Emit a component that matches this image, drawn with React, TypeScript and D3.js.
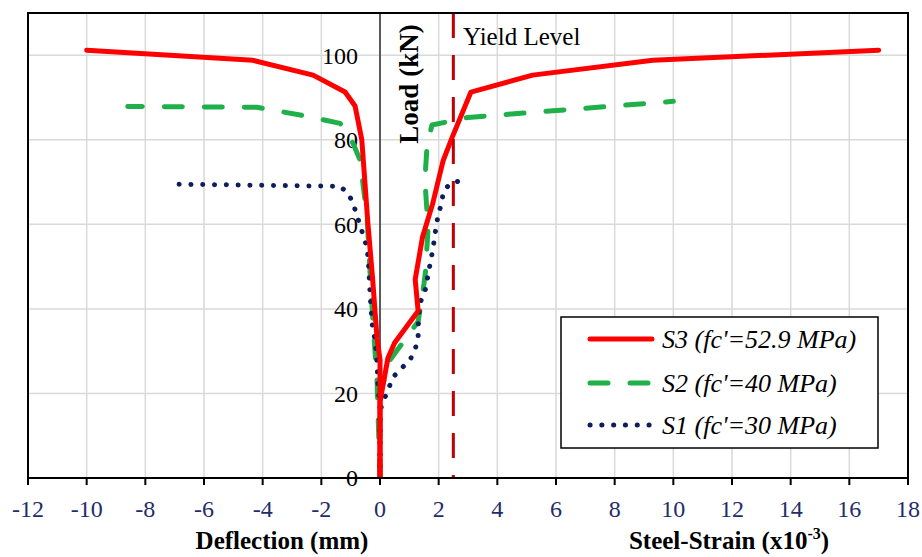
import React from "react";
import * as d3 from "d3";

const width = 922;
const height = 557;

// axis ranges and tick labels
const xTickValues = [-12, -10, -8, -6, -4, -2, 0, 2, 4, 6, 8, 10, 12, 14, 16, 18];
const yTickValues = [0, 20, 40, 60, 80, 100];
const yieldStrain = 2.5;

// [x, load] pairs; x<0 = deflection, x>0 = strain
const s3Deflection = [[0, 0], [0, 28], [-0.1, 33], [-0.25, 47], [-0.41, 60], [-0.62, 80], [-0.85, 88], [-1.19, 91.3], [-2.28, 95.3], [-4.33, 98.8], [-10, 101.2]];
const s3Strain = [[0, 0], [0, 18], [0.27, 28.4], [0.5, 32], [1.3, 39.5], [1.2, 47], [1.45, 57], [1.8, 65], [2.15, 75], [2.45, 80.4], [3.1, 91.3], [5.2, 95.3], [9.3, 98.8], [17, 101.2]];
const s2Deflection = [[0, 0], [-0.1, 23], [-0.24, 37], [-0.35, 50], [-0.44, 61.7], [-0.68, 75.2], [-0.92, 79.2], [-1.36, 83.9], [-2.66, 85.8], [-4.2, 87.7], [-8.6, 87.9]];
const s2Strain = [[0, 0], [0, 20], [0.35, 28], [1.3, 37], [1.5, 46], [1.55, 48.7], [1.64, 59.3], [1.53, 70.4], [1.6, 78.2], [1.77, 83.5], [3, 85.3], [10, 89.1]];
const s1Deflection = [[0, 0], [0, 16.5], [-0.07, 21.5], [-0.1, 27.2], [-0.17, 32.6], [-0.27, 36.6], [-0.34, 43.7], [-0.4, 51.5], [-0.44, 54.4], [-0.68, 59.8], [-0.92, 65], [-1.08, 67.3], [-1.36, 69], [-6.9, 69.5]];
const s1Strain = [[0, 0], [0, 16], [0.17, 19.1], [0.45, 23.9], [0.74, 26], [1.02, 27.9], [1.19, 30.3], [1.3, 33], [1.3, 35.7], [1.36, 41.4], [1.53, 44], [1.81, 54.4], [1.88, 57.9], [1.98, 62.2], [2.11, 65.2], [2.15, 67.6], [2.39, 69.7], [2.8, 70.4]];

const seriesNames = ["S3 (fc'=52.9 MPa)", "S2 (fc'=40 MPa)", "S1 (fc'=30 MPa)"];

const left = 28, right = 908, top = 13, bottom = 478;
const x = d3.scaleLinear().domain([-12, 18]).range([left, right]);
const y = d3.scaleLinear().domain([0, 110]).range([bottom, top]);

const line = d3.line<number[]>().x(d => x(d[0])).y(d => y(d[1]));

const serif = "'Liberation Serif', 'Times New Roman', serif";

const styles = [
  { stroke: "#ff0000", dash: undefined, cap: "round" },
  { stroke: "#1fb04a", dash: "18 22", cap: "round" },
  { stroke: "#0c1f5c", dash: "0.1 11.7", cap: "round" },
];

export default function App() {
  const curves = [
    { d: [s2Deflection, s2Strain], s: styles[1] },
    { d: [s1Deflection, s1Strain], s: styles[2] },
    { d: [s3Deflection, s3Strain], s: styles[0] },
  ];
  const legX = 561, legY = 317;
  return (
    <svg width={width} height={height} style={{ position: "absolute", left: 0, top: 0, background: "#fff" }} fontFamily={serif}>
      <defs>
        <clipPath id="plot"><rect x={left} y={top} width={right - left} height={bottom - top} /></clipPath>
      </defs>
      {/* grid */}
      {xTickValues.slice(1, -1).map(v => (
        <line key={"gx" + v} x1={x(v)} x2={x(v)} y1={top} y2={bottom} stroke="#d9d9d9" strokeWidth={1.5} />
      ))}
      {yTickValues.slice(1).map(v => (
        <line key={"gy" + v} x1={left} x2={right} y1={y(v)} y2={y(v)} stroke="#d9d9d9" strokeWidth={1.5} />
      ))}
      {/* center axis */}
      <line x1={x(0)} x2={x(0)} y1={top} y2={bottom} stroke="#000" strokeWidth={1.2} />
      {/* y tick labels */}
      {yTickValues.map(v => (
        <text key={"yl" + v} x={358} y={y(v)} dy="0.35em" textAnchor="end" fontSize={24} fill="#000">{v}</text>
      ))}
      <text transform={`translate(418,84) rotate(-90)`} textAnchor="middle" fontSize={27} fontWeight="bold">Load (kN)</text>
      {/* curves */}
      <g clipPath="url(#plot)">
        {curves.map((c, i) => c.d.map((pts, j) => (
          <path key={i + "-" + j} d={line(pts) || ""} fill="none" stroke={c.s.stroke} strokeWidth={5}
            strokeDasharray={c.s.dash} strokeLinecap={c.s.cap as any} strokeLinejoin="round" />
        )))}
        <line x1={x(yieldStrain)} x2={x(yieldStrain)} y1={top} y2={bottom} stroke="#c00000" strokeWidth={3} strokeDasharray="25 17" />
      </g>
      <text x={463} y={45} fontSize={25} fill="#000">Yield Level</text>
      {/* frame */}
      <rect x={left} y={top} width={right - left} height={bottom - top} fill="none" stroke="#000" strokeWidth={2} />
      {xTickValues.map(v => (
        <g key={"xt" + v}>
          <line x1={x(v)} x2={x(v)} y1={bottom} y2={bottom + 7} stroke="#000" strokeWidth={2} />
          <text x={x(v)} y={517} textAnchor="middle" fontSize={24} fill="#1f2d6b">{v}</text>
        </g>
      ))}
      <text x={282} y={549} textAnchor="middle" fontSize={25} fontWeight="bold">Deflection (mm)</text>
      <text x={729} y={549} textAnchor="middle" fontSize={25} fontWeight="bold">
        Steel-Strain (x10<tspan dy={-10} fontSize={16}>-3</tspan><tspan dy={10}>)</tspan>
      </text>
      {/* legend */}
      <rect x={legX} y={legY} width={317} height={131} fill="#fff" stroke="#000" strokeWidth={1.5} />
      {seriesNames.map((name, i) => {
        const ly = [339, 383, 425][i];
        const s = styles[i];
        return (
          <g key={name}>
            <line x1={590} x2={652} y1={ly} y2={ly} stroke={s.stroke} strokeWidth={5}
              strokeDasharray={s.dash} strokeLinecap={s.cap as any} />
            <text x={662} y={ly} dy="0.33em" fontSize={26} fontStyle="italic">{name}</text>
          </g>
        );
      })}
    </svg>
  );
}
